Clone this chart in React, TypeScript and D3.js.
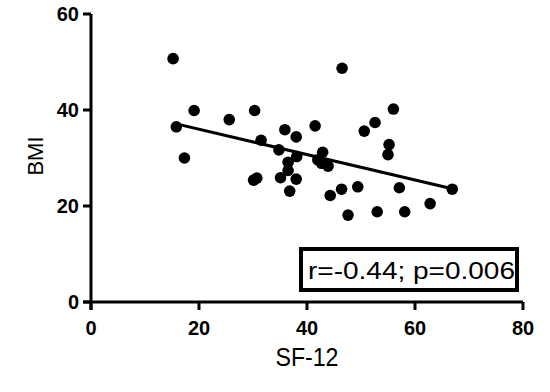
import React from 'react';
import * as d3 from 'd3';

// SF-12 scores (x) and BMI (y)
const sf12 = [
  15.2, 19.1, 15.8, 25.6, 30.3, 31.5, 17.3, 30.1, 30.7, 46.5,
  56.0, 52.6, 50.6, 55.2, 55.0, 35.9, 38.0, 41.5, 34.8, 42.9,
  38.1, 36.5, 42.0, 42.7, 43.9, 36.5, 35.1, 38.0, 36.8, 44.3,
  46.4, 49.4, 57.1, 66.9, 62.8, 47.6, 53.0, 58.1,
];
const bmi = [
  50.7, 39.9, 36.5, 38.0, 39.9, 33.7, 30.0, 25.4, 25.8, 48.7,
  40.2, 37.4, 35.6, 32.8, 30.7, 35.9, 34.4, 36.7, 31.7, 31.2,
  30.3, 29.1, 29.6, 28.9, 28.3, 27.4, 25.9, 25.6, 23.1, 22.2,
  23.5, 24.0, 23.8, 23.5, 20.5, 18.1, 18.8, 18.8,
];
const xTicks = [0, 20, 40, 60, 80];
const yTicks = [0, 20, 40, 60];
const annotation = 'r=-0.44; p=0.006';

const W = 550;
const H = 392;
const font = "'Liberation Sans', Arial, Helvetica, sans-serif";

const App: React.FC = () => {
  const x = d3.scaleLinear().domain([0, 80]).range([91, 523]);
  const y = d3.scaleLinear().domain([0, 60]).range([302, 14]);

  // least squares fit
  const mx = d3.mean(sf12)!;
  const my = d3.mean(bmi)!;
  let sxy = 0;
  let sxx = 0;
  sf12.forEach((v, i) => {
    sxy += (v - mx) * (bmi[i] - my);
    sxx += (v - mx) * (v - mx);
  });
  const slope = sxy / sxx;
  const icpt = my - slope * mx;
  const [x0, x1] = d3.extent(sf12) as [number, number];
  const line = d3.line<number>().x((d) => x(d)).y((d) => y(icpt + slope * d));

  return (
    <svg width={W} height={H} style={{ position: 'absolute', left: 0, top: 0, background: '#fff' }}>
      <g fontFamily={font}>
        {sf12.map((v, i) => (
          <circle key={i} cx={x(v)} cy={y(bmi[i])} r={5.8} fill="#000" />
        ))}
        <path d={line([x0, x1]) ?? ''} stroke="#000" strokeWidth={3} fill="none" />

        {/* y axis */}
        <line x1={x(0)} x2={x(0)} y1={y(60)} y2={y(0) + 8} stroke="#000" strokeWidth={3} />
        {yTicks.map((t) => (
          <g key={t}>
            <line x1={x(0) - 8} x2={x(0)} y1={y(t)} y2={y(t)} stroke="#000" strokeWidth={3} />
            <text x={x(0) - 12} y={y(t)} dy="0.36em" textAnchor="end" fontSize={20} fontWeight="bold">
              {t}
            </text>
          </g>
        ))}
        {/* x axis */}
        <line x1={x(0) - 8} x2={x(80)} y1={y(0)} y2={y(0)} stroke="#000" strokeWidth={3} />
        {xTicks.map((t) => (
          <g key={t}>
            <line x1={x(t)} x2={x(t)} y1={y(0)} y2={y(0) + 8} stroke="#000" strokeWidth={3} />
            <text x={x(t)} y={335} textAnchor="middle" fontSize={20} fontWeight="bold">
              {t}
            </text>
          </g>
        ))}

        <text x={307} y={366} textAnchor="middle" fontSize={25} textLength={63} lengthAdjust="spacingAndGlyphs">
          SF-12
        </text>
        <text transform="translate(42.5,156) rotate(-90)" textAnchor="middle" fontSize={22}>BMI</text>

        <rect x={301} y={249} width={216} height={41} fill="#fff" stroke="#000" strokeWidth={4} />
        <text x={308} y={279} fontSize={24.6} textLength={207} lengthAdjust="spacingAndGlyphs">
          {annotation}
        </text>
      </g>
    </svg>
  );
};

export default App;
